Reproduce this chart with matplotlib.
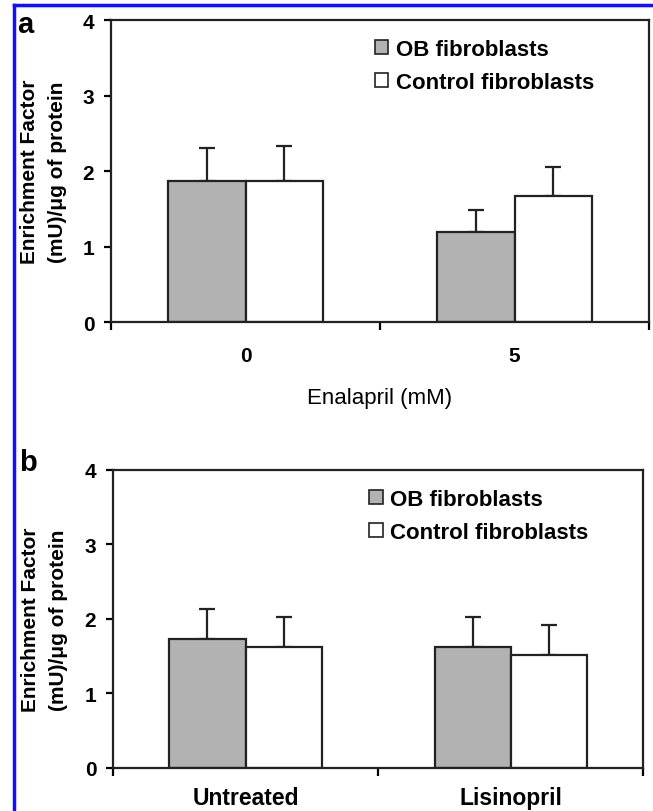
import matplotlib.pyplot as plt
import matplotlib.patches as mpatches
import matplotlib.lines as mlines
import numpy as np

plt.rcParams['font.family'] = ['Liberation Sans', 'DejaVu Sans']

# panel a - enalapril
a_labels = ['0', '5']
a_ob = [1.87, 1.20]
a_ob_err = [0.43, 0.29]
a_ctrl = [1.87, 1.67]
a_ctrl_err = [0.46, 0.39]

# panel b - lisinopril
b_labels = ['Untreated', 'Lisinopril']
b_ob = [1.73, 1.62]
b_ob_err = [0.41, 0.40]
b_ctrl = [1.62, 1.52]
b_ctrl_err = [0.40, 0.40]

series_names = ['OB fibroblasts', 'Control fibroblasts']
ylab = 'Enrichment Factor\n(mU)/\u03bcg of protein'

GRAY = '#b2b2b2'
W = 0.287


def draw_panel(ax, labels, ob, ob_err, ctrl, ctrl_err, xfs, xpad, labx):
	x = np.arange(len(labels))
	for vals, err, col, off in [(ob, ob_err, GRAY, -W / 2), (ctrl, ctrl_err, 'white', W / 2)]:
		ax.bar(x + off, vals, W, color=col, edgecolor='#222222', linewidth=1.6, zorder=2)
		ax.errorbar(x + off, vals, yerr=[np.zeros(len(vals)), err], fmt='none',
					ecolor='#222222', elinewidth=1.6, capsize=6, capthick=1.6, zorder=1)
	ax.set_xlim(-0.5, len(labels) - 0.5)
	ax.set_ylim(0, 4)
	ax.set_yticks([0, 1, 2, 3, 4])
	ax.set_yticklabels(['0', '1', '2', '3', '4'], fontsize=15, fontweight='bold')
	ax.set_xticks(np.arange(len(labels) + 1) - 0.5)
	ax.set_xticklabels([])
	ax.set_xticks(x, minor=True)
	ax.set_xticklabels(labels, minor=True, fontsize=xfs, fontweight='bold')
	ax.tick_params(axis='x', which='minor', length=0, pad=xpad)
	ax.tick_params(axis='x', which='major', direction='out', length=6, width=1.6)
	ax.tick_params(axis='y', direction='out', length=5, width=1.6, pad=7)
	for s in ax.spines.values():
		s.set_linewidth(1.6)
		s.set_color('#222222')
	ax.set_ylabel(ylab, fontsize=15, fontweight='bold', linespacing=1.6, va='center')
	ax.yaxis.set_label_coords(labx, 0.5)
	handles = [mpatches.Patch(facecolor=GRAY, edgecolor='#222222', linewidth=1.2),
			   mpatches.Patch(facecolor='white', edgecolor='#222222', linewidth=1.2)]
	ax.legend(handles, series_names, loc='upper right', bbox_to_anchor=(0.935, 1.004),
			  frameon=False, prop={'size': 16, 'weight': 'bold'},
			  handlelength=0.6, handleheight=0.6, handletextpad=0.35, labelspacing=0.55)


fig = plt.figure(figsize=(6.53, 8.12), dpi=100)
ax_a = fig.add_axes([0.170, 0.602, 0.824, 0.372])
ax_b = fig.add_axes([0.173, 0.053, 0.812, 0.367])

draw_panel(ax_a, a_labels, a_ob, a_ob_err, a_ctrl, a_ctrl_err, 15, 17, -0.125)
draw_panel(ax_b, b_labels, b_ob, b_ob_err, b_ctrl, b_ctrl_err, 16.5, 13, -0.13)
ax_a.set_xlabel('Enalapril (mM)', fontsize=16, labelpad=16)

fig.text(0.026, 0.987, 'a', fontsize=21, fontweight='bold', va='top')
fig.text(0.030, 0.447, 'b', fontsize=21, fontweight='bold', va='top')

# blue frame on left and top
fig.add_artist(mlines.Line2D([0.021, 0.021], [0, 0.993], color='#1010ff', linewidth=2.5))
fig.add_artist(mlines.Line2D([0.021, 1.0], [0.993, 0.993], color='#1010ff', linewidth=2.5))

fig.savefig('out.png', dpi=100)
